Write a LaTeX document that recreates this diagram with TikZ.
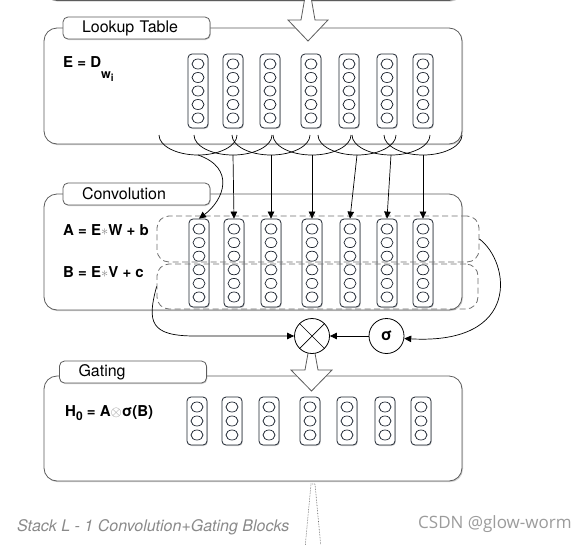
\documentclass[tikz,border=0pt]{standalone}
\usepackage{fontspec}
\setmainfont{TeX Gyre Heros}
\newfontfamily\markfont{Open Sans}
\usetikzlibrary{arrows.meta,shadows,positioning}
\definecolor{gcedge}{HTML}{5C5C5C}
\definecolor{gccol}{HTML}{1E2530}
\definecolor{gcdash}{HTML}{707070}
\definecolor{gcnote}{HTML}{8A8A8A}
\definecolor{gcmark}{HTML}{9C9C9C}

\begin{document}
\begin{tikzpicture}[x=1pt,y=-1pt,
 layerbox/.style={draw=gcedge,line width=0.8pt,rounded corners=13pt,fill=white,minimum width=418pt,
   drop shadow={shadow xshift=1pt,shadow yshift=-1.2pt,opacity=0.35}},
 tabbox/.style={draw=gcedge,line width=0.8pt,rounded corners=5pt,fill=white,minimum width=147pt,minimum height=22pt,
   text width=109pt,inner xsep=19pt,inner ysep=1pt,align=left,font=\fontsize{16}{18}\selectfont,
   drop shadow={shadow xshift=0.8pt,shadow yshift=-1pt,opacity=0.35}},
 colbox/.style={draw=gccol,line width=0.8pt,rounded corners=4pt,fill=white,minimum width=20pt,inner sep=0pt,
   drop shadow={shadow xshift=0.8pt,shadow yshift=-1pt,opacity=0.35}},
 cellline/.style={draw=gccol,line width=0.7pt},
 eqlabel/.style={anchor=base west,inner sep=0pt,font=\fontsize{15}{17}\selectfont\bfseries},
 dashbox/.style={draw=gcdash,line width=0.8pt,dash pattern=on 6pt off 3.5pt,rounded corners=12pt,inner sep=0pt},
 arcline/.style={draw=black,line width=0.7pt},
 feedarrow/.style={-{Triangle[length=7pt,width=6.5pt]},line width=0.7pt},
 gatenode/.style={draw=black,line width=0.8pt,circle,fill=white,minimum size=35pt,inner sep=0pt},
 bigarrow/.style={draw=gcedge,fill=white,line width=0.8pt,line join=miter}
]
\path[fill=white] (0,0) rectangle (586,544);
\useasboundingbox (0,0) rectangle (586,544);

% block above (cut off)
\node[layerbox,minimum height=100pt] (prevbox) at (253,-49.5) {};

% lookup table
\node[layerbox,minimum height=116pt] (lookup) at (253,86) {};
\draw[bigarrow] (305,-3) -- (301,20) -- (288,20) -- (308,41) -- (328,20) -- (315,20) -- (311,-3);
\node[tabbox] (lookuptab) at (136.5,28) {Lookup Table};
\node[eqlabel] (elabel) at (63,67.5)
  {E = D\raisebox{-11pt}{\fontsize{12.5}{14}\selectfont w}\raisebox{-13.5pt}{\fontsize{10}{12}\selectfont i}};
\foreach \i/\cx in {1/198,2/233,3/270,4/311,5/349,6/387,7/423} {
  \node[colbox,minimum height=74pt] (lk\i) at (\cx,91) {};
  \foreach \k in {-2,...,2}
    \draw[cellline] (\cx,91+13.5*\k) ellipse [x radius=6,y radius=5];
}
\foreach \i/\bx in {1/198,2/233,3/271,4/312,5/357,6/391,7/423} {
  \coordinate (arc\i) at (\bx,155);
  \draw[arcline] (\bx-39,135) .. controls (\bx-39,146) and (\bx-21.5,155) .. (arc\i)
    .. controls (\bx+21.5,155) and (\bx+39,146) .. (\bx+39,135);
}

% convolution
\node[layerbox,minimum height=116pt] (conv) at (253,252) {};
\node[tabbox] (convtab) at (136.5,194) {Convolution};
\node[eqlabel] (alabel) at (63,235) {A = E{\color{gcnote}$\ast$}W + b};
\node[eqlabel] (blabel) at (63,277.5) {B = E{\color{gcnote}$\ast$}V + c};
\foreach \i/\cx in {1/199,2/234,3/271,4/312,5/350,6/387,7/423} {
  \node[colbox,minimum height=88pt] (cv\i) at (\cx,263) {};
  \foreach \k in {0,...,5}
    \draw[cellline] (\cx,229+13.6*\k) ellipse [x radius=6,y radius=5];
}
\node[dashbox,minimum width=322pt,minimum height=46pt] (abox) at (318,239) {};
\node[dashbox,minimum width=321pt,minimum height=45pt] (bbox) at (317.5,286.5) {};
\draw[feedarrow] (arc1) .. controls (236,168) and (224,200) .. (cv1.north);
\foreach \i in {2,...,7}
  \draw[feedarrow] (arc\i) -- (cv\i.north);

% gating
\node[layerbox,minimum height=105pt] (gating) at (253,428.5) {};
\node[tabbox] (gatingtab) at (133,372) {Gating};
\node[eqlabel] (hlabel) at (65,416)
  {H\raisebox{-4.5pt}{\fontsize{12}{14}\selectfont 0} = A{\color{gcnote}$\otimes$}σ(B)};
\foreach \i/\cx in {1/197,2/232,3/269,4/310,5/347,6/385,7/421} {
  \node[colbox,minimum height=48pt] (gt\i) at (\cx,421) {};
  \foreach \k in {0,...,2}
    \draw[cellline] (\cx,407+14*\k) ellipse [x radius=6,y radius=5];
}
\draw[bigarrow] (309.5,345) -- (305,370) -- (291,370) -- (311.5,391) -- (332,370) -- (318,370) -- (313.5,345) -- cycle;

% gates
\node[gatenode] (gx) at (312,336) {};
\draw[line width=0.7pt] (gx.north east) -- (gx.south west) (gx.north west) -- (gx.south east);
\node[gatenode,font=\fontsize{16}{18}\selectfont\bfseries] (sg) at (386.5,336) {σ};
\draw[feedarrow] (sg.west) -- (gx.east);
\draw[feedarrow] (bbox.west) .. controls (147,322) and (150,336) .. (195,336) -- (gx.west);
\draw[feedarrow] (abox.east) .. controls (510,262) and (522,345) .. (sg.-8);

% next blocks
\draw[gcedge,densely dotted,line width=0.6pt] (305,548) -- (311,484) -- (315,484) -- (321,548);
\node[anchor=west,inner sep=0pt,text=gcnote,font=\fontsize{16}{18}\selectfont\itshape] (stacknote) at (17,527)
  {Stack L - 1 Convolution+Gating Blocks};
\node[anchor=west,inner sep=0pt,text=gcmark,font=\markfont\fontsize{17}{19}\selectfont] (mark) at (418,524)
  {CSDN @glow-worm};
\end{tikzpicture}
\end{document}
